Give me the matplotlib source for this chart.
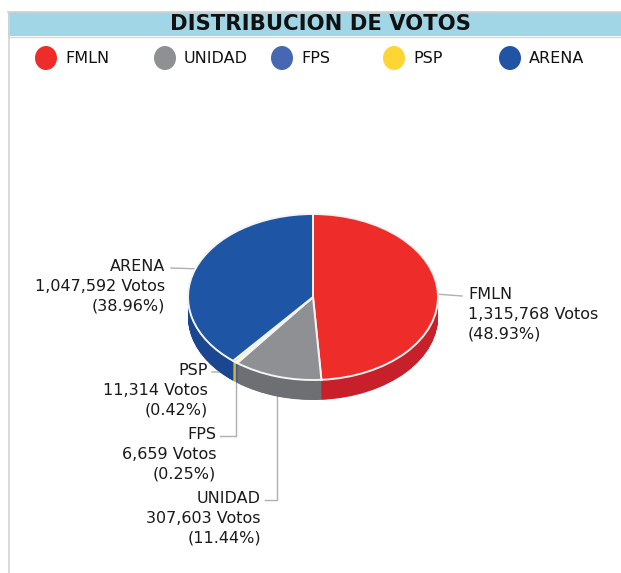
import numpy as np
import matplotlib
matplotlib.use("Agg")
import matplotlib.pyplot as plt
from matplotlib.patches import Rectangle, Ellipse

# ---------------- data ----------------
parties = ["FMLN", "UNIDAD", "FPS", "PSP", "ARENA"]
votes = [1315768, 307603, 6659, 11314, 1047592]
percents = [48.93, 11.44, 0.25, 0.42, 38.96]
top_colors = ["#ee2d2a", "#8e9094", "#4465b0", "#fdd535", "#1f55a5"]
side_colors = ["#c8202a", "#6e6f73", "#3a589c", "#d9b420", "#1b4791"]
legend_colors = ["#ee2d2a", "#8e9094", "#4667b2", "#fdd535", "#2154a4"]
title = "DISTRIBUCION DE VOTOS"

W, H = 621, 573
fig = plt.figure(figsize=(W / 100, H / 100), dpi=100)
fig.patch.set_facecolor("white")

# overlay axes in pixel coordinates
ov = fig.add_axes([0, 0, 1, 1])
ov.set_xlim(0, W)
ov.set_ylim(H, 0)
ov.axis("off")

# frame + banner
ov.add_patch(Rectangle((8, 12), W - 8, 24, facecolor="#a0d6e6", edgecolor="none", zorder=1))
ov.plot([8, W], [11.5, 11.5], color="#cfcfcf", lw=1.2, zorder=2)
ov.plot([8, W], [36.5, 36.5], color="#d9d9d9", lw=1.0, zorder=2)
ov.plot([8.5, 8.5], [11.5, H], color="#d3d3d3", lw=1.2, zorder=2)
ov.text(320, 24.5, title, ha="center", va="center", fontsize=15.2,
        fontweight="bold", color="#111111", family="DejaVu Sans")

# legend
leg_circle_x = [46, 165, 282, 394, 510]
for px, name, col in zip(leg_circle_x, parties, legend_colors):
    ov.add_patch(Ellipse((px, 58), 22, 24, facecolor=col, edgecolor="none"))
    ov.text(px + 19, 58.5, name, ha="left", va="center", fontsize=11.5, color="#111111")

# ---------------- 3D pie ----------------
cx, cy, rx, ry, depth = 313, 297, 125, 83, 20
dd = depth / ry
xl = (-1.05, 1.05)
yl = (-1 - dd - 0.12, 1.05)
ax_w = (xl[1] - xl[0]) * rx
ax_h = (yl[1] - yl[0]) * ry
left_px = cx + xl[0] * rx
top_px = cy - yl[1] * ry
pax = fig.add_axes([left_px / W, (H - (top_px + ax_h)) / H, ax_w / W, ax_h / H])

for k in np.linspace(dd, 0, 50):
    pax.pie(percents, colors=side_colors, startangle=90, counterclock=False,
            center=(0, -k), radius=1, wedgeprops=dict(linewidth=0, antialiased=True))
pax.pie(percents, colors=top_colors, startangle=90, counterclock=False,
        radius=1, wedgeprops=dict(edgecolor="#f4f4f4", linewidth=1.4))
pax.set_aspect("auto")
pax.set_xlim(*xl)
pax.set_ylim(*yl)
pax.axis("off")

fig.canvas.draw()

# mid angles clockwise from top
cum = np.cumsum([0] + percents)
mids = [(cum[i] + cum[i + 1]) / 2 * 3.6 for i in range(len(percents))]


def to_ov(x, y):
    disp = pax.transData.transform((x, y))
    return ov.transData.inverted().transform(disp)


# label settings (position of first line, alignment, anchor on top edge or side bottom)
label_cfg = {
    "FMLN": dict(tx=468, ty=296, ha="left", side=False),
    "ARENA": dict(tx=165, ty=268, ha="right", side=False),
    "PSP": dict(tx=208, ty=372, ha="right", side=False),
    "FPS": dict(tx=216, ty=436, ha="right", side=True),
    "UNIDAD": dict(tx=261, ty=500, ha="right", side=True),
}
line_col = "#b0b0b0"
for i, name in enumerate(parties):
    c = label_cfg[name]
    th = np.deg2rad(mids[i])
    ax_x, ax_y = np.sin(th), np.cos(th)
    if c["side"]:
        ax_y -= dd
    axp = to_ov(ax_x, ax_y)
    txt = f"{name}\n{votes[i]:,} Votos\n({percents[i]:.2f}%)"
    ov.text(c["tx"], c["ty"] - 9, txt, ha=c["ha"], va="top", fontsize=11.5,
            color="#1a1a1a", linespacing=1.4, multialignment=c["ha"])
    if c["ha"] == "left":
        xs = [axp[0], c["tx"] - 6]
        ys = [axp[1], c["ty"]]
    elif c["side"]:
        xs = [c["tx"] + 4, axp[0], axp[0]]
        ys = [c["ty"], c["ty"], axp[1]]
    elif name == "PSP":
        xs = [c["tx"] + 4, axp[0] - 8, axp[0]]
        ys = [c["ty"], c["ty"], axp[1]]
    else:
        xs = [c["tx"] + 6, axp[0]]
        ys = [c["ty"], axp[1]]
    ov.plot(xs, ys, color=line_col, lw=1.0, zorder=5)

fig.savefig("out.png", dpi=100, facecolor="white")
